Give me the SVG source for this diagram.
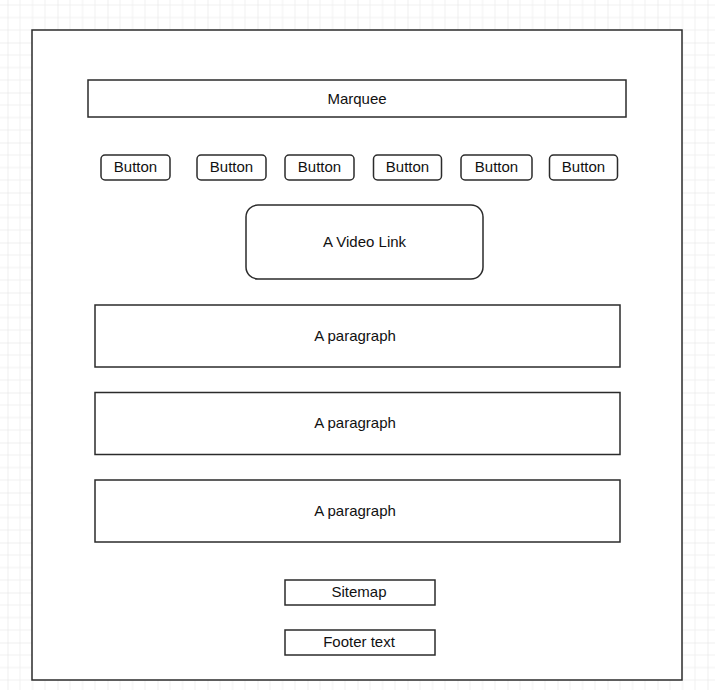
<svg xmlns="http://www.w3.org/2000/svg" width="715" height="690" viewBox="0 0 715 690">
  <style>
    .box { fill: #ffffff; stroke: #2b2b2b; stroke-width: 1.5; }
    .lbl { font-family: "Liberation Sans", Arial, sans-serif; font-size: 15px; fill: #111111; text-anchor: middle; dominant-baseline: central; }
  </style>
  <defs>
    <pattern id="grid" patternUnits="userSpaceOnUse" x="7.5" y="-7.5" width="50" height="50">
      <path d="M12.5 0V50M25 0V50M37.5 0V50M0 12.5H50M0 25H50M0 37.5H50" stroke="#f0f0f0" stroke-width="1" fill="none"/>
      <path d="M0 0V50M0 0H50" stroke="#e0e0e0" stroke-width="1" fill="none"/>
    </pattern>
  </defs>
  <rect x="0" y="0" width="715" height="690" fill="#ffffff"/>
  <rect x="0" y="0" width="715" height="690" fill="url(#grid)"/>

  <g id="page">
    <rect class="box" x="32" y="30" width="650" height="650"/>
  </g>
  <g id="marquee">
    <rect class="box" x="88" y="80" width="538" height="37"/>
    <text class="lbl" x="357" y="98">Marquee</text>
  </g>
  <g id="button1">
    <rect class="box" x="101" y="155" width="69" height="25" rx="4"/>
    <text class="lbl" x="135.5" y="166.5">Button</text>
  </g>
  <g id="button2">
    <rect class="box" x="197" y="155" width="69" height="25" rx="4"/>
    <text class="lbl" x="231.5" y="166.5">Button</text>
  </g>
  <g id="button3">
    <rect class="box" x="285" y="155" width="69" height="25" rx="4"/>
    <text class="lbl" x="319.5" y="166.5">Button</text>
  </g>
  <g id="button4">
    <rect class="box" x="373.5" y="155" width="68" height="25" rx="4"/>
    <text class="lbl" x="407.5" y="166.5">Button</text>
  </g>
  <g id="button5">
    <rect class="box" x="461" y="155" width="71" height="25" rx="4"/>
    <text class="lbl" x="496.5" y="166.5">Button</text>
  </g>
  <g id="button6">
    <rect class="box" x="549.5" y="155" width="68" height="25" rx="4"/>
    <text class="lbl" x="583.5" y="166.5">Button</text>
  </g>
  <g id="video">
    <rect class="box" x="246" y="205" width="237" height="74" rx="12"/>
    <text class="lbl" x="364.5" y="241">A Video Link</text>
  </g>
  <g id="paragraph1">
    <rect class="box" x="95" y="305" width="525" height="62"/>
    <text class="lbl" x="355" y="335">A paragraph</text>
  </g>
  <g id="paragraph2">
    <rect class="box" x="95" y="392.5" width="525" height="62"/>
    <text class="lbl" x="355" y="422.5">A paragraph</text>
  </g>
  <g id="paragraph3">
    <rect class="box" x="95" y="480" width="525" height="62"/>
    <text class="lbl" x="355" y="510">A paragraph</text>
  </g>
  <g id="sitemap">
    <rect class="box" x="285" y="580" width="150" height="25"/>
    <text class="lbl" x="359" y="591">Sitemap</text>
  </g>
  <g id="footer">
    <rect class="box" x="285" y="630" width="150" height="25"/>
    <text class="lbl" x="359" y="641">Footer text</text>
  </g>
  <g id="connectors"/>
</svg>
